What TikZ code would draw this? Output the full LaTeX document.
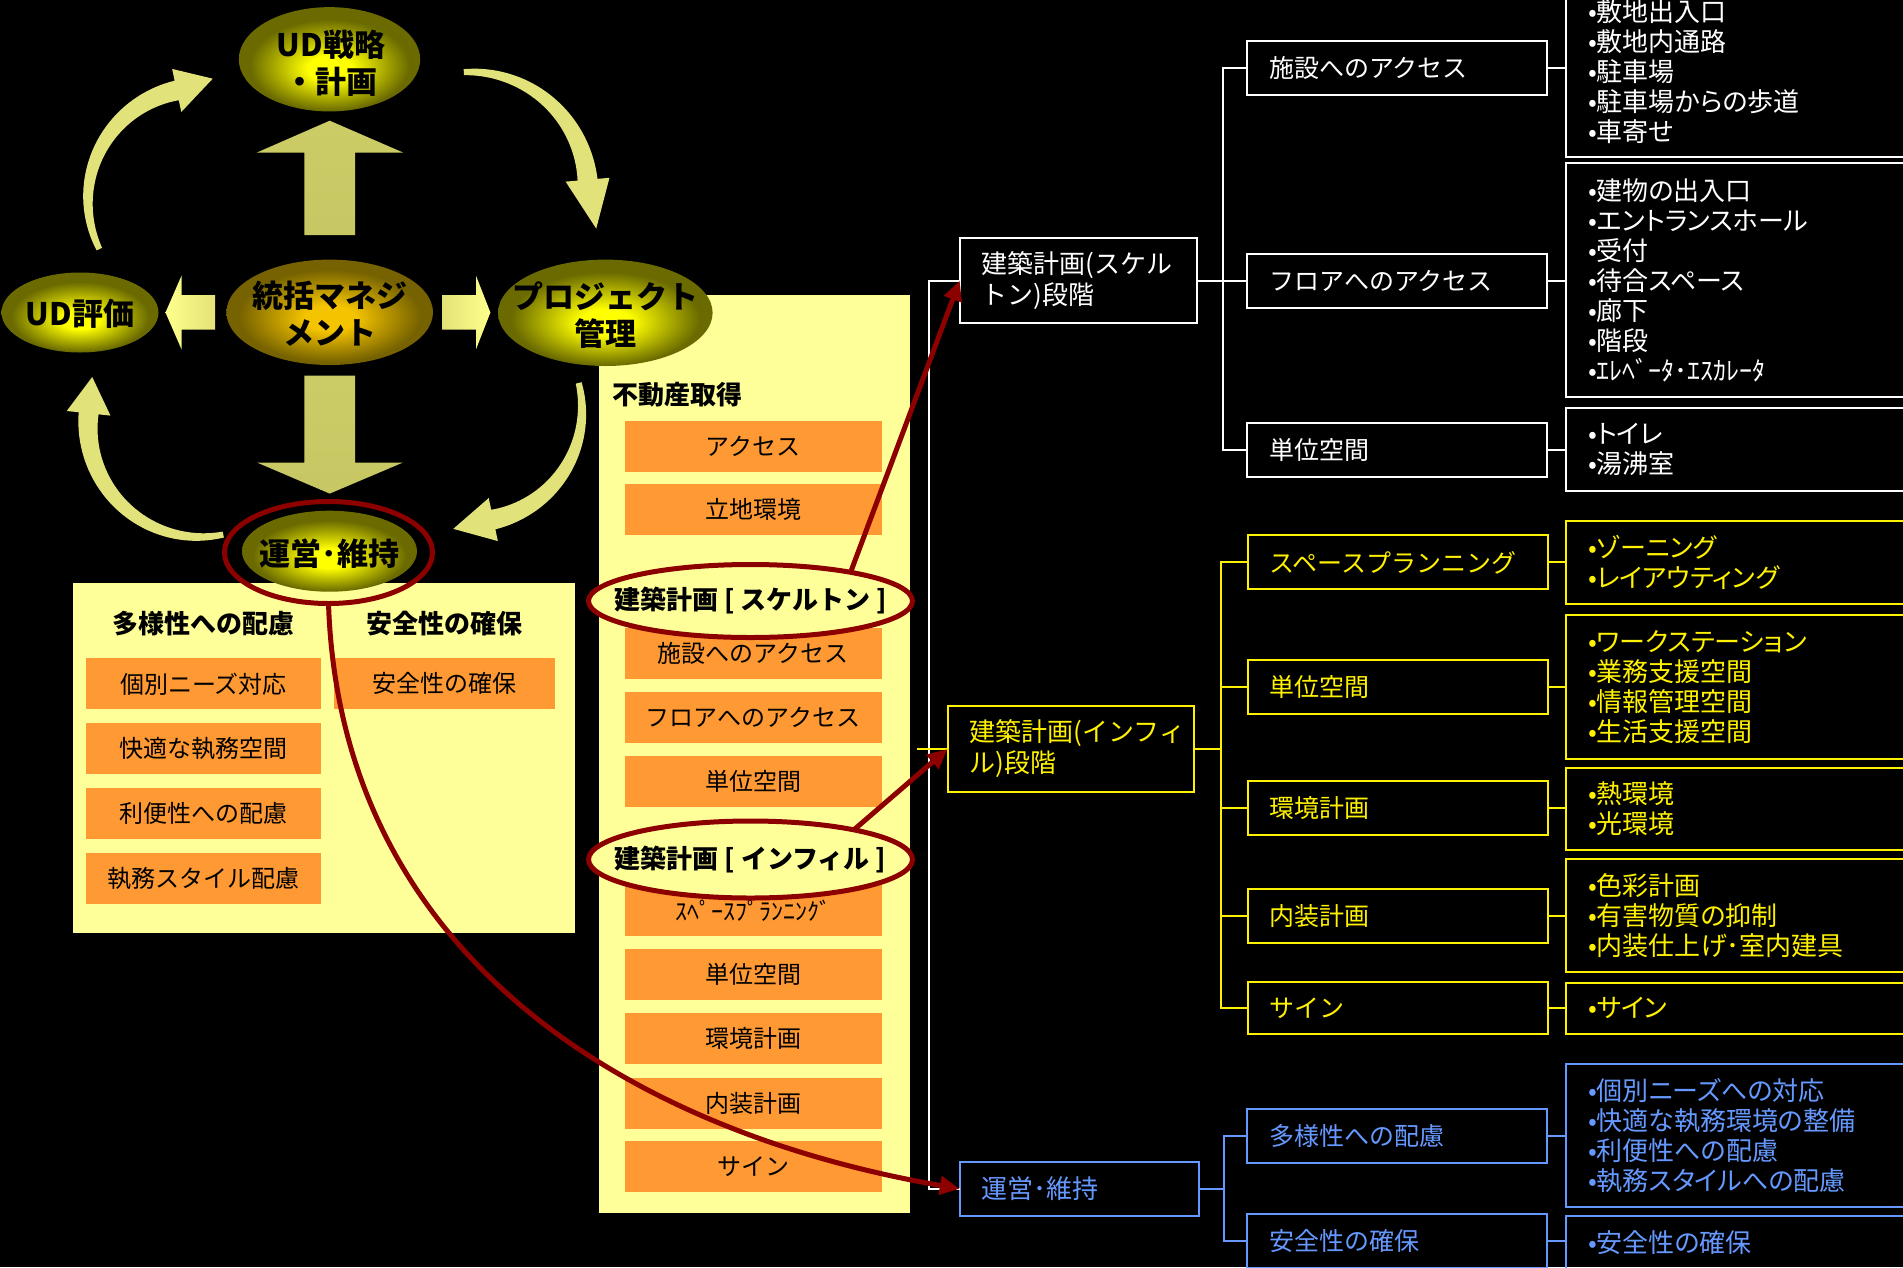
\documentclass[tikz,border=0pt]{standalone}
\usepackage{fontspec}
\setmainfont{Noto Sans CJK JP}
\newfontfamily\jpp[RawFeature=+palt]{Noto Sans CJK JP}
\usetikzlibrary{shapes.geometric,arrows.meta,calc}

\definecolor{panelY}{HTML}{FFFF99}
\definecolor{orangeI}{HTML}{FF9933}
\definecolor{redD}{HTML}{8C0000}
\definecolor{blueL}{HTML}{6699FF}
\definecolor{ellOut}{HTML}{6A6A00}
\definecolor{ellIn}{HTML}{FFFF00}
\definecolor{tgIn}{HTML}{F5C400}
\definecolor{tgOut}{HTML}{766200}
\definecolor{arrLight}{HTML}{FFFF8C}
\definecolor{arrDark}{HTML}{8E8E3A}
\definecolor{crvFill}{HTML}{E2E27A}

\pgfdeclareradialshading{ellshade}{\pgfpoint{0bp}{-5bp}}{color(0bp)=(ellIn); color(6bp)=(ellIn); color(22bp)=(ellOut); color(25bp)=(ellOut); color(50bp)=(ellOut)}
\pgfdeclareradialshading{tgshade}{\pgfpoint{0bp}{-3bp}}{color(0bp)=(tgIn); color(6bp)=(tgIn); color(22bp)=(tgOut); color(25bp)=(tgOut); color(50bp)=(tgOut)}

\newcommand{\crvarr}[7]{%
\begin{scope}[shift={(#1,-#2)}]
\fill[crvFill] plot[variable=\t,domain=#4:#5,samples=40] (\t:{#3+3+7*(\t-(#4))/((#5)-(#4))})
 -- (#5:{#3+22}) -- (#6:{#3+#7}) -- (#5:{#3-22})
 -- plot[variable=\t,domain=#5:#4,samples=40] (\t:{#3-3-7*(\t-(#4))/((#5)-(#4))}) -- cycle;
\end{scope}}

\tikzset{
 every node/.append style={inner sep=0pt, outer sep=0pt},
 tbox/.style={draw=#1, text=#1, line width=2pt, minimum width=300pt, minimum height=54pt, text width=256pt, align=left, font=\fontsize{25}{30}\selectfont, inner xsep=22pt},
 dbox/.style={draw=#1, text=#1, line width=2pt, text width=305pt, align=left, font=\jpp\fontsize{26}{30}\selectfont, inner xsep=22pt},
 stbox/.style={draw=#1, text=#1, line width=2pt, align=left, font=\fontsize{26}{31}\selectfont, inner xsep=22pt},
 conn/.style={draw=#1, line width=2pt},
 oitem/.style={fill=orangeI, minimum height=51pt, text=black, font=\fontsize{24}{28}\selectfont},
 panel/.style={fill=panelY},
 hdr/.style={text=black, font=\bfseries\fontsize{26}{30}\selectfont},
 cycell/.style={ellipse, shade, shading=ellshade},
 cyct/.style={text=black, align=center, font=\bfseries\fontsize{31}{37}\selectfont},
 redell/.style={ellipse, draw=redD, line width=5pt},
 redarr/.style={draw=redD, line width=5pt, -{Triangle[length=20pt,width=18pt]}},
 blkv/.style={top color=arrLight!55!arrDark, middle color=arrLight, bottom color=arrLight!50!arrDark},
}

\begin{document}
\begin{tikzpicture}[x=1pt,y=1pt]
\useasboundingbox (0,0) rectangle (1903,-1267);
\fill[black] (0,0) rectangle (1903,-1267);
\clip (0,0) rectangle (1903,-1267);

% ---------- left panel ----------
\node[panel, minimum width=502.5pt, minimum height=349.4pt] (lpanel) at (323.95,-758) {};
\node[hdr] (lh1) at (203.2,-623.3) {多様性への配慮};
\node[hdr] (lh2) at (444.9,-623.3) {安全性の確保};
\node[oitem, minimum width=234.6pt] (li1) at (203.4,-683.8) {個別ニーズ対応};
\node[oitem, minimum width=234.6pt] (li2) at (203.4,-748.8) {快適な執務空間};
\node[oitem, minimum width=234.6pt] (li3) at (203.4,-813.8) {利便性への配慮};
\node[oitem, minimum width=234.6pt] (li4) at (203.4,-878.8) {執務スタイル配慮};
\node[oitem, minimum width=221pt] (ri1) at (444.5,-683.8) {安全性の確保};

% ---------- middle panel ----------
\node[panel, minimum width=310.7pt, minimum height=918pt] (mpanel) at (754.65,-754) {};
\node[hdr, anchor=west] (mh) at (612,-395) {不動産取得};
\node[oitem, minimum width=256.7pt] (m1) at (753.3,-446.5) {アクセス};
\node[oitem, minimum width=256.7pt] (m2) at (753.3,-509.5) {立地環境};
\node[oitem, minimum width=256.7pt] (m3) at (753.3,-653.5) {施設へのアクセス};
\node[oitem, minimum width=256.7pt] (m4) at (753.3,-717.5) {フロアへのアクセス};
\node[oitem, minimum width=256.7pt] (m5) at (753.3,-781.5) {単位空間};
\node[oitem, minimum width=256.7pt] (m6) at (753.3,-910.5) {ｽﾍﾟｰｽﾌﾟﾗﾝﾆﾝｸﾞ};
\node[oitem, minimum width=256.7pt] (m7) at (753.3,-974.5) {単位空間};
\node[oitem, minimum width=256.7pt] (m8) at (753.3,-1038.5) {環境計画};
\node[oitem, minimum width=256.7pt] (m9) at (753.3,-1103.5) {内装計画};
\node[oitem, minimum width=256.7pt] (m10) at (753.3,-1166.5) {サイン};

\node[redell, fill=panelY, minimum width=324pt, minimum height=73pt] (skel) at (750.5,-601) {};
\node[hdr] (skelt) at (skel.center) {建築計画 [ スケルトン ]};
\node[redell, fill=panelY, minimum width=324pt, minimum height=77pt] (inff) at (750.5,-859.5) {};
\node[hdr] (infft) at (inff.center) {建築計画 [ インフィル ]};

% ---------- cycle diagram ----------
\crvarr{200}{200}{112}{206}{102}{84}{10}
\crvarr{470}{190}{118}{93}{5}{-17}{14}
\crvarr{470}{410}{112}{14}{-78}{-98}{8}
\crvarr{200}{425}{112}{-78}{-186}{-204}{6}

\shade[blkv]
 (304.4,-235) -- (304.4,-152.5) -- (257,-152.5) -- (329.7,-120.7) -- (403,-152.5) -- (355,-152.5) -- (355,-235) -- cycle;
\shade[blkv]
 (304.4,-375.7) -- (355,-375.7) -- (355,-462.5) -- (403,-462.5) -- (329.7,-493.6) -- (257,-462.5) -- (304.4,-462.5) -- cycle;
\shade[left color=arrLight, right color=arrLight!75!arrDark]
 (165.5,-312.5) -- (181.5,-275.7) -- (181.5,-295) -- (215,-295) -- (215,-329.6) -- (181.5,-329.6) -- (181.5,-349.3) -- cycle;
\shade[left color=arrLight!75!arrDark, right color=arrLight]
 (442,-295) -- (476,-295) -- (476,-275.7) -- (490.4,-312.5) -- (476,-349.3) -- (476,-329.6) -- (442,-329.6) -- cycle;

\node[cycell, minimum width=181.4pt, minimum height=104.3pt] (uds) at (329.5,-59.3) {};
\node[cyct] (udst) at (331,-63.3) {UD戦略\\・計画};
\node[ellipse, shade, shading=tgshade, minimum width=206.6pt, minimum height=105.4pt] (tg) at (329.7,-312.3) {};
\node[cyct] (tgt) at (329.7,-314) {統括マネジ\\メント};
\node[cycell, minimum width=157pt, minimum height=80pt] (ude) at (80,-312.5) {};
\node[cyct] (udet) at (80,-314) {UD評価};
\node[cycell, minimum width=214.6pt, minimum height=106.4pt] (pm) at (605.3,-312.8) {};
\node[cyct] (pmt) at (605.3,-315) {プロジェクト\\管理};
\node[cycell, minimum width=175pt, minimum height=81pt] (om) at (329.5,-551.2) {};
\node[cyct] (omt) at (329.5,-554) {運営･維持};
\node[redell, minimum width=208pt, minimum height=102pt] (opring) at (328.5,-552.5) {};

% ---------- right tree: skeleton (white) ----------
\node[stbox=white, minimum width=237.3pt, minimum height=85pt, text width=193.3pt] (sk) at (1078.4,-280.5) {建築計画(スケル\\トン)段階};
\node[tbox=white] (b1) at (1397,-68) {施設へのアクセス};
\node[tbox=white] (b2) at (1397,-280.5) {フロアへのアクセス};
\node[tbox=white] (b3) at (1397,-449.5) {単位空間};
\node[dbox=white, minimum height=170pt] (d1) at (1740.5,-72) {•敷地出入口\\•敷地内通路\\•駐車場\\•駐車場からの歩道\\•車寄せ};
\node[dbox=white, minimum height=234pt] (d2) at (1740.5,-280) {•建物の出入口\\•エントランスホール\\•受付\\•待合スペース\\•廊下\\•階段\\•ｴﾚﾍﾞｰﾀ･ｴｽｶﾚｰﾀ};
\node[dbox=white, minimum height=83pt] (d3) at (1740.5,-449.5) {•トイレ\\•湯沸室};
\draw[conn=white] (sk.east) -- (b2.west);
\draw[conn=white] (b1.west) -- ++(-24.4,0) |- (b3.west);
\draw[conn=white] (b1.east) -- (d1.west |- b1.east);
\draw[conn=white] (b2.east) -- (d2.west |- b2.east);
\draw[conn=white] (b3.east) -- (d3.west |- b3.east);

% ---------- right tree: infill (yellow) ----------
\node[stbox=yellow, minimum width=246.5pt, minimum height=85.5pt, text width=202.5pt] (inf) at (1070.75,-749) {建築計画(インフィ\\ル)段階};
\node[tbox=yellow] (s1) at (1397.5,-562.4) {スペースプランニング};
\node[tbox=yellow] (s2) at (1397.5,-687) {単位空間};
\node[tbox=yellow] (s3) at (1397.5,-808.4) {環境計画};
\node[tbox=yellow] (s4) at (1397.5,-916.2) {内装計画};
\node[tbox=yellow, minimum height=52pt] (s5) at (1397.5,-1008) {サイン};
\node[dbox=yellow, minimum height=82.8pt] (e1) at (1740.5,-562.7) {•ゾーニング\\•レイアウティング};
\node[dbox=yellow, minimum height=143.6pt] (e2) at (1740.5,-686.8) {•ワークステーション\\•業務支援空間\\•情報管理空間\\•生活支援空間};
\node[dbox=yellow, minimum height=82.3pt] (e3) at (1740.5,-808.9) {•熱環境\\•光環境};
\node[dbox=yellow, minimum height=113pt] (e4) at (1740.5,-915.9) {•色彩計画\\•有害物質の抑制\\•内装仕上げ･室内建具};
\node[dbox=yellow, minimum height=51.2pt] (e5) at (1740.5,-1008.4) {•サイン};
\coordinate (ysp) at (1220.7,-749);
\draw[conn=yellow] (inf.east) -- (ysp);
\draw[conn=yellow] (s1.west) -- ++(-26.8,0) |- (s5.west);
\draw[conn=yellow] (s2.west) -- ++(-26.8,0);
\draw[conn=yellow] (s3.west) -- ++(-26.8,0);
\draw[conn=yellow] (s4.west) -- ++(-26.8,0);
\draw[conn=yellow] (s1.east) -- (e1.west |- s1.east);
\draw[conn=yellow] (s2.east) -- (e2.west |- s2.east);
\draw[conn=yellow] (s3.east) -- (e3.west |- s3.east);
\draw[conn=yellow] (s4.east) -- (e4.west |- s4.east);
\draw[conn=yellow] (s5.east) -- (e5.west |- s5.east);

% ---------- right tree: operation (blue) ----------
\node[stbox=blueL, minimum width=239.5pt, minimum height=54pt, text width=195.5pt] (op) at (1079.5,-1188.8) {運営･維持};
\node[tbox=blueL] (n1) at (1397,-1136.3) {多様性への配慮};
\node[tbox=blueL] (n2) at (1397,-1241.2) {安全性の確保};
\node[dbox=blueL, minimum height=143pt] (f1) at (1740.5,-1135.8) {•個別ニーズへの対応\\•快適な執務環境の整備\\•利便性への配慮\\•執務スタイルへの配慮};
\node[dbox=blueL, minimum height=54pt] (f2) at (1740.5,-1243) {•安全性の確保};
\coordinate (bsp) at (1223.8,-1188.8);
\draw[conn=blueL] (op.east) -- (bsp);
\draw[conn=blueL] (n1.west) -- ++(-23.2,0) |- (n2.west);
\draw[conn=blueL] (n1.east) -- (f1.west |- n1.east);
\draw[conn=blueL] (n2.east) -- (f2.west |- n2.east);

% ---------- stage spine ----------
\draw[conn=white] (sk.west) -- ++(-30.7,0) |- (op.west);
\draw[conn=yellow] (inf.west) -- ++(-30.5,0);

% ---------- red connectors ----------
\draw[redarr] (skel.16) -- (sk.west);
\draw[redarr] (inff.16) -- (inf.west);
\draw[redarr] (opring.south) .. controls (340,-950) and (620,-1130) .. (op.west);
\end{tikzpicture}
\end{document}
